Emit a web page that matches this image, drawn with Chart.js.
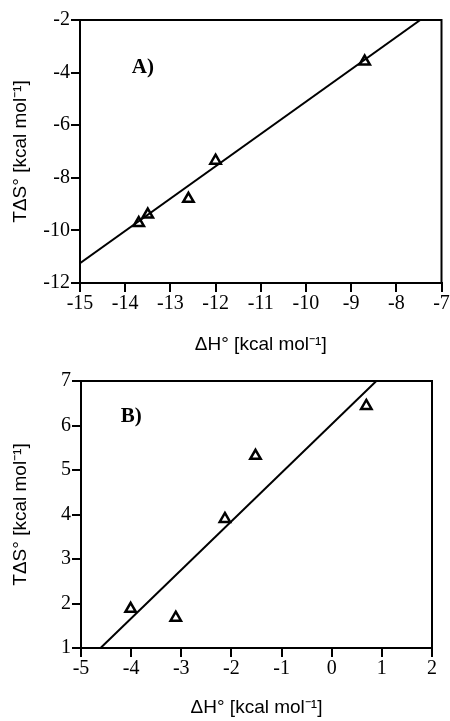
<!DOCTYPE html>
<html>
<head>
<meta charset="utf-8">
<script src="https://cdn.jsdelivr.net/npm/chart.js@4/dist/chart.umd.min.js"></script>
<style>
  html, body { margin: 0; padding: 0; background: #fff; }
  .wrap { position: relative; width: 450px; }
  #wa { width: 450px; height: 360px; }
  #wb { width: 450px; height: 361px; }
</style>
</head>
<body>
<div class="wrap" id="wa"><canvas id="ca"></canvas></div>
<div class="wrap" id="wb"><canvas id="cb"></canvas></div>
<script>
// ---- Panel A data ----
const aDeltaH = [-13.7, -13.5, -12.6, -12.0, -8.7];
const aTDeltaS = [-9.72, -9.4, -8.8, -7.35, -3.58];
const aFitX = [-15, -7.47];
const aFitY = [-11.25, -2];
const aXTicks = [-15, -14, -13, -12, -11, -10, -9, -8, -7];
const aYTicks = [-12, -10, -8, -6, -4, -2];
const aLabel = 'A)';
const aLabelPos = [-13.61, -3.8];

// ---- Panel B data ----
const bDeltaH = [-4.01, -3.11, -2.13, -1.52, 0.69];
const bTDeltaS = [1.88, 1.68, 3.9, 5.32, 6.44];
const bFitX = [-4.61, 0.89];
const bFitY = [1, 7];
const bXTicks = [-5, -4, -3, -2, -1, 0, 1, 2];
const bYTicks = [1, 2, 3, 4, 5, 6, 7];
const bLabel = 'B)';
const bLabelPos = [-4.0, 6.2];

const xTitle = 'ΔH° [kcal mol⁻¹]';
const yTitle = 'TΔS° [kcal mol⁻¹]';

const SERIF = "'Liberation Serif', 'Times New Roman', serif";
const SANS = "'Liberation Sans', Arial, sans-serif";
Chart.defaults.font.family = SERIF;
Chart.defaults.font.size = 20;
Chart.defaults.color = '#000';

const framePlugin = {
  id: 'frame',
  afterDraw(chart, args, opts) {
    const { ctx, chartArea: a, scales } = chart;
    ctx.save();
    ctx.strokeStyle = '#000';
    ctx.lineWidth = 2;
    ctx.strokeRect(a.left, a.top, a.right - a.left, a.bottom - a.top);
    ctx.font = 'bold 21px ' + SERIF;
    ctx.fillStyle = '#000';
    ctx.textAlign = 'center';
    ctx.textBaseline = 'middle';
    ctx.fillText(opts.text, scales.x.getPixelForValue(opts.pos[0]), scales.y.getPixelForValue(opts.pos[1]));
    ctx.restore();
  }
};

function makeChart(id, px, py, fx, fy, xt, yt, label, labelPos, geom) {
  const toPts = (xs, ys) => xs.map((x, i) => ({ x: x, y: ys[i] }));
  return new Chart(document.getElementById(id), {
    type: 'scatter',
    data: {
      datasets: [
        {
          data: toPts(fx, fy),
          showLine: true,
          borderColor: '#000',
          borderWidth: 2,
          pointRadius: 0,
          fill: false
        },
        {
          data: toPts(px, py),
          pointStyle: 'triangle',
          pointRadius: 6,
          pointBorderWidth: 2.5,
          pointBorderColor: '#000',
          pointBackgroundColor: '#fff',
          showLine: false
        }
      ]
    },
    options: {
      responsive: true,
      maintainAspectRatio: false,
      animation: false,
      events: [],
      layout: { padding: { top: geom.top, right: geom.right, left: 0, bottom: 0 } },
      plugins: {
        legend: { display: false },
        tooltip: { enabled: false },
        frame: { text: label, pos: labelPos }
      },
      scales: {
        x: {
          type: 'linear',
          min: xt[0],
          max: xt[xt.length - 1],
          afterBuildTicks: s => { s.ticks = xt.map(v => ({ value: v })); },
          afterFit: s => { s.height = geom.xh; },
          border: { display: true, color: '#000', width: 2 },
          grid: { display: true, drawOnChartArea: false, drawTicks: true, tickLength: 9, color: '#000', lineWidth: 2 },
          ticks: { color: '#000', font: { family: SERIF, size: 20 }, padding: 0, maxRotation: 0, autoSkip: false },
          title: { display: true, text: xTitle, color: '#000', font: { family: SANS, size: 19 }, padding: { top: 0, bottom: geom.xtp } }
        },
        y: {
          type: 'linear',
          min: yt[0],
          max: yt[yt.length - 1],
          afterBuildTicks: s => { s.ticks = yt.map(v => ({ value: v })); },
          afterFit: s => { s.width = geom.yw; },
          border: { display: true, color: '#000', width: 2 },
          grid: { display: true, drawOnChartArea: false, drawTicks: true, tickLength: 9, color: '#000', lineWidth: 2 },
          ticks: { color: '#000', font: { family: SERIF, size: 20 }, padding: 1, autoSkip: false },
          title: { display: true, text: yTitle, color: '#000', font: { family: SANS, size: 19 }, padding: { top: 9, bottom: 0 } }
        }
      }
    },
    plugins: [framePlugin]
  });
}

makeChart('ca', aDeltaH, aTDeltaS, aFitX, aFitY, aXTicks, aYTicks, aLabel, aLabelPos,
  { top: 20, right: 7, xh: 77, yw: 80, xtp: 4 });
makeChart('cb', bDeltaH, bTDeltaS, bFitX, bFitY, bXTicks, bYTicks, bLabel, bLabelPos,
  { top: 21, right: 18, xh: 73, yw: 81, xtp: 2 });
</script>
</body>
</html>
